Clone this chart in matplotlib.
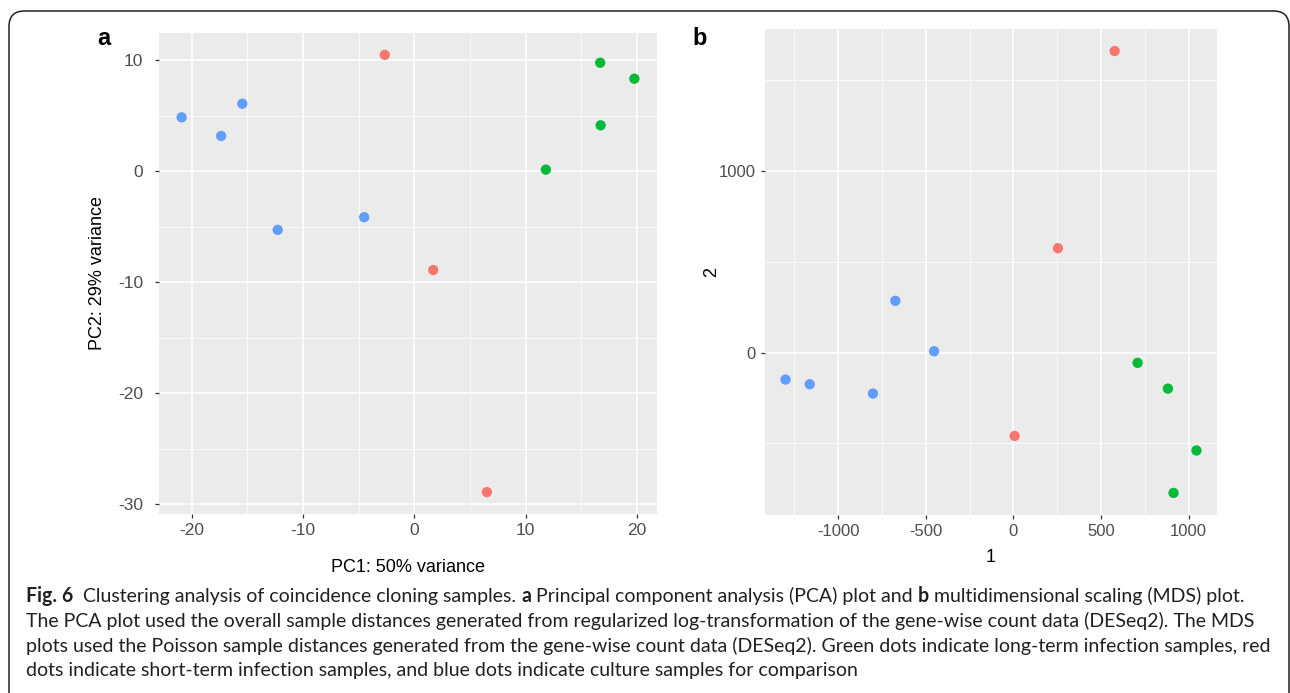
import matplotlib
matplotlib.use("Agg")
import matplotlib.pyplot as plt
from matplotlib.ticker import MultipleLocator
from matplotlib.patches import FancyBboxPatch

W, H = 1290, 693

# panel a: PCA
pca_pc1 = [-20.9, -17.35, -15.45, -12.27, -4.5, -2.65, 1.7, 6.52, 11.82, 16.7, 16.74, 19.77]
pca_pc2 = [4.86, 3.18, 6.09, -5.28, -4.14, 10.49, -8.9, -28.92, 0.15, 9.78, 4.14, 8.34]
pca_group = ["culture"] * 5 + ["short"] * 3 + ["long"] * 4

# panel b: MDS
mds_1 = [-1301, -1163, -802, -674, -453, 7, 254, 578, 709, 882, 914, 1045]
mds_2 = [-149, -175, -226, 285, 7, -460, 575, 1662, -57, -199, -774, -540]
mds_group = ["culture"] * 5 + ["short"] * 3 + ["long"] * 4

colors = {"short": "#F8766D", "long": "#00BA38", "culture": "#619CFF"}

caption_lines = [
    [("Fig. 6", "bold"), ("  Clustering analysis of coincidence cloning samples. ", "normal"),
     ("a", "bold"), (" Principal component analysis (PCA) plot and ", "normal"),
     ("b", "bold"), (" multidimensional scaling (MDS) plot.", "normal")],
    [("The PCA plot used the overall sample distances generated from regularized "
      "log-transformation of the gene-wise count data (DESeq2). The MDS", "normal")],
    [("plots used the Poisson sample distances generated from the gene-wise count data "
      "(DESeq2). Green dots indicate long-term infection samples, red", "normal")],
    [("dots indicate short-term infection samples, and blue dots indicate culture "
      "samples for comparison", "normal")],
]

plt.rcParams["font.family"] = ["Liberation Sans", "DejaVu Sans"]
plt.rcParams["axes.unicode_minus"] = False

fig = plt.figure(figsize=(W / 100, H / 100), dpi=100)


def px_box(left, top, right, bottom):
    return [left / W, 1 - bottom / H, (right - left) / W, (bottom - top) / H]


def style_panel(ax, tick_size, ypad):
    ax.set_facecolor("#EBEBEB")
    for sp in ax.spines.values():
        sp.set_visible(False)
    ax.set_axisbelow(True)
    ax.grid(which="major", color="white", lw=1.1)
    ax.grid(which="minor", color="white", lw=0.55)
    ax.tick_params(which="major", length=3, width=0.9, color="#333333",
                   labelcolor="#4D4D4D", labelsize=tick_size)
    ax.tick_params(which="minor", length=0)
    ax.tick_params(axis="x", pad=3.5)
    ax.tick_params(axis="y", pad=ypad)


ax1 = fig.add_axes(px_box(159, 33, 657, 514))
ax1.scatter(pca_pc1, pca_pc2, c=[colors[g] for g in pca_group], s=55, linewidths=0, zorder=3)
ax1.xaxis.set_major_locator(MultipleLocator(10))
ax1.xaxis.set_minor_locator(MultipleLocator(5))
ax1.yaxis.set_major_locator(MultipleLocator(10))
ax1.yaxis.set_minor_locator(MultipleLocator(5))
style_panel(ax1, 12.5, 8.5)
ax1.set_xlabel("PC1: 50% variance", fontsize=13)
ax1.set_ylabel("PC2: 29% variance", fontsize=13)
ax1.xaxis.set_label_coords(0.5, -0.093)
ax1.yaxis.set_label_coords(-0.107, 0.5)

ax2 = fig.add_axes(px_box(765, 29, 1217, 515))
ax2.scatter(mds_1, mds_2, c=[colors[g] for g in mds_group], s=55, linewidths=0, zorder=3)
ax2.xaxis.set_major_locator(MultipleLocator(500))
ax2.xaxis.set_minor_locator(MultipleLocator(250))
ax2.yaxis.set_major_locator(MultipleLocator(1000))
ax2.yaxis.set_minor_locator(MultipleLocator(500))
style_panel(ax2, 12, 4)
ax2.set_xlabel("1", fontsize=13)
ax2.set_ylabel("2", fontsize=13)
ax2.xaxis.set_label_coords(0.5, -0.07)
ax2.yaxis.set_label_coords(-0.10, 0.5)

fig.text(97 / W, 1 - 45 / H, "a", fontsize=17, fontweight="bold", va="baseline")
fig.text(692 / W, 1 - 45 / H, "b", fontsize=17, fontweight="bold", va="baseline")

# rounded frame around the figure
frame = FancyBboxPatch((9 / W, -0.05), 1280 / W, 1 - 11 / H + 0.05,
                       boxstyle="round,pad=0,rounding_size=0.012",
                       transform=fig.transFigure, fill=False,
                       ec="#231F20", lw=1.1, mutation_aspect=W / H)
fig.add_artist(frame)

# caption
cap_font = ["Lato", "DejaVu Sans"]
renderer = fig.canvas.get_renderer()
probe = fig.text(0, 0, caption_lines[2][0][0], fontsize=12, family=cap_font)
cap_size = 12 * 1242 / probe.get_window_extent(renderer).width
probe.remove()

baselines = [602, 627, 652, 676]
for segs, yb in zip(caption_lines, baselines):
    x = 26
    for txt, weight in segs:
        t = fig.text(x / W, 1 - yb / H, txt, fontsize=cap_size, fontweight=weight,
                     family=cap_font, color="#231F20", va="baseline", ha="left")
        x = t.get_window_extent(renderer).x1

fig.savefig("out.png", dpi=100)
